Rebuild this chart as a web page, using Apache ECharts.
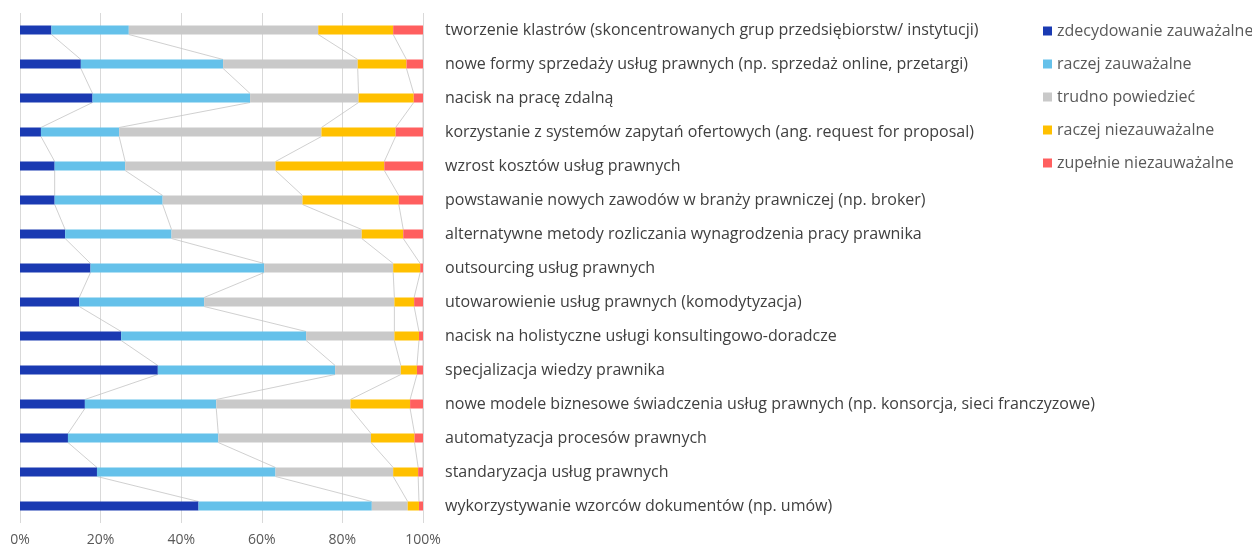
<!DOCTYPE html>
<html>
<head>
<meta charset="utf-8">
<script src="https://cdn.jsdelivr.net/npm/echarts@6/dist/echarts.min.js"></script>
<style>
  html, body { margin: 0; padding: 0; background: #fff; }
  #chart { width: 1252px; height: 549px; }
</style>
</head>
<body>
<div id="chart"></div>
<script>
// categories, top to bottom
const categories = [
  'tworzenie klastrów (skoncentrowanych grup przedsiębiorstw/ instytucji)',
  'nowe formy sprzedaży usług prawnych (np. sprzedaż online, przetargi)',
  'nacisk na pracę zdalną',
  'korzystanie z systemów zapytań ofertowych (ang. request for proposal)',
  'wzrost kosztów usług prawnych',
  'powstawanie nowych zawodów w branży prawniczej (np. broker)',
  'alternatywne metody rozliczania wynagrodzenia pracy prawnika',
  'outsourcing usług prawnych',
  'utowarowienie usług prawnych (komodytyzacja)',
  'nacisk na holistyczne usługi konsultingowo-doradcze',
  'specjalizacja wiedzy prawnika',
  'nowe modele biznesowe świadczenia usług prawnych (np. konsorcja, sieci franczyzowe)',
  'automatyzacja procesów prawnych',
  'standaryzacja usług prawnych',
  'wykorzystywanie wzorców dokumentów (np. umów)'
]

const seriesNames = [
  'zdecydowanie zauważalne',
  'raczej zauważalne',
  'trudno powiedzieć',
  'raczej niezauważalne',
  'zupełnie niezauważalne'
]

const zdecydowanieZauwazalne = [7.8, 15.1, 18.0, 5.2, 8.6, 8.6, 11.2, 17.5, 14.7, 25.1, 34.2, 16.1, 11.9, 19.1, 44.3]
const raczejZauwazalne = [19.2, 35.3, 39.1, 19.4, 17.5, 26.8, 26.4, 43.1, 31.0, 45.9, 44.0, 32.6, 37.3, 44.3, 43.0]
const trudnoPowiedziec = [47.0, 33.4, 26.9, 50.2, 37.3, 34.7, 47.2, 32.0, 47.2, 21.9, 16.3, 33.3, 37.9, 29.2, 8.9]
const raczejNiezauwazalne = [18.6, 12.1, 13.7, 18.4, 27.0, 23.9, 10.3, 6.7, 4.9, 6.1, 4.0, 14.8, 10.8, 6.2, 2.8]
const zupelnieNiezauwazalne = [7.4, 4.1, 2.3, 6.8, 9.6, 6.0, 4.9, 0.7, 2.2, 1.0, 1.5, 3.2, 2.1, 1.2, 1.0]

const xTicks = [0, 20, 40, 60, 80, 100]

const values = [zdecydowanieZauwazalne, raczejZauwazalne, trudnoPowiedziec, raczejNiezauwazalne, zupelnieNiezauwazalne]
const colors = ['#1a3ab2', '#65c1ea', '#c9c9c9', '#ffc000', '#ff5f5f']
const FONT = 'Open Sans'
const BAR_W = 9

// series lines (like excel): connect each cumulative boundary between neighbouring bars
function seriesLineData() {
  const out = []
  const cum = categories.map((c, i) => {
    let s = 0
    return values.map(v => (s += v[i]))
  })
  for (let k = 0; k < values.length; k++) {
    for (let i = 0; i < categories.length - 1; i++) {
      out.push([i, cum[i][k], cum[i + 1][k]])
    }
  }
  return out
}

const chart = echarts.init(document.getElementById('chart'))

const barSeries = seriesNames.map((name, k) => ({
  name: name,
  type: 'bar',
  stack: 'total',
  barWidth: BAR_W,
  itemStyle: { color: colors[k] },
  z: 3,
  data: values[k]
}))

chart.setOption({
  animation: false,
  textStyle: { fontFamily: FONT },
  grid: { left: 20, right: 829, top: 13, bottom: 26, containLabel: false },
  legend: {
    orient: 'vertical',
    left: 1038,
    top: 18,
    icon: 'rect',
    itemWidth: 9,
    itemHeight: 9,
    itemGap: 17,
    textStyle: { color: '#595959', fontSize: 16, fontFamily: FONT, lineHeight: 16 },
    data: seriesNames
  },
  xAxis: {
    type: 'value',
    min: xTicks[0],
    max: xTicks[xTicks.length - 1],
    interval: 20,
    axisLine: { show: false },
    axisTick: { show: false },
    splitLine: { lineStyle: { color: '#d9d9d9', width: 1 } },
    axisLabel: { formatter: '{value}%', color: '#595959', fontSize: 14, margin: 10 }
  },
  yAxis: {
    type: 'category',
    position: 'right',
    inverse: true,
    data: categories,
    axisLine: { show: false },
    axisTick: { show: false },
    axisLabel: { color: '#404040', fontSize: 16, margin: 22 }
  },
  series: barSeries.concat([{
    type: 'custom',
    silent: true,
    z: 2,
    encode: { x: [1, 2], y: 0 },
    renderItem: function (params, api) {
      const i = api.value(0)
      const a = api.coord([api.value(1), i])
      const b = api.coord([api.value(2), i + 1])
      return {
        type: 'line',
        shape: { x1: a[0], y1: a[1] + BAR_W / 2, x2: b[0], y2: b[1] - BAR_W / 2 },
        style: { stroke: '#c4c4c4', lineWidth: 0.8 }
      }
    },
    data: seriesLineData()
  }])
})
</script>
</body>
</html>
